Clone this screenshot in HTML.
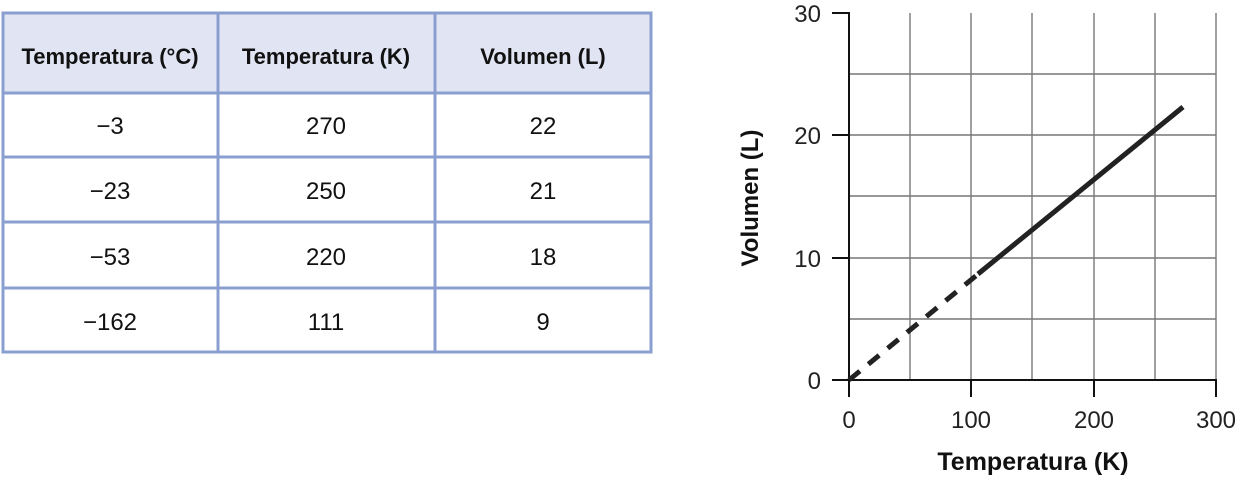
<!DOCTYPE html>
<html><head><meta charset="utf-8"><style>
body{margin:0;width:1237px;height:479px;background:#fff;font-family:"Liberation Sans",sans-serif;overflow:hidden}
</style></head><body>
<svg width="1237" height="479" xmlns="http://www.w3.org/2000/svg" font-family="Liberation Sans, sans-serif">
<rect x="3" y="13" width="648" height="80" fill="#e1e5f3"/>
<g stroke="#8a9fd0" stroke-width="3" fill="none">
<rect x="3" y="13" width="648" height="339"/>
<line x1="218" y1="13" x2="218" y2="352"/><line x1="435" y1="13" x2="435" y2="352"/>
<line x1="3" y1="93" x2="651" y2="93"/><line x1="3" y1="157" x2="651" y2="157"/>
<line x1="3" y1="222" x2="651" y2="222"/><line x1="3" y1="288" x2="651" y2="288"/>
</g>
<g font-size="24" text-anchor="middle" fill="#111">
<g font-weight="bold" font-size="22"><text x="110" y="64">Temperatura (°C)</text><text x="326" y="64">Temperatura (K)</text><text x="543" y="64">Volumen (L)</text></g>
<text x="110" y="134">−3</text><text x="326" y="134">270</text><text x="543" y="134">22</text>
<text x="110" y="199">−23</text><text x="326" y="199">250</text><text x="543" y="199">21</text>
<text x="110" y="265">−53</text><text x="326" y="265">220</text><text x="543" y="265">18</text>
<text x="110" y="330">−162</text><text x="326" y="330">111</text><text x="543" y="330">9</text>
</g>
<g stroke="#777" stroke-width="1.4">
<line x1="910" y1="13" x2="910" y2="380"/><line x1="971" y1="13" x2="971" y2="380"/><line x1="1032" y1="13" x2="1032" y2="380"/><line x1="1094" y1="13" x2="1094" y2="380"/><line x1="1155" y1="13" x2="1155" y2="380"/><line x1="1216" y1="13" x2="1216" y2="380"/>
<line x1="849" y1="319" x2="1216" y2="319"/><line x1="849" y1="258" x2="1216" y2="258"/><line x1="849" y1="196" x2="1216" y2="196"/><line x1="849" y1="135" x2="1216" y2="135"/><line x1="849" y1="74" x2="1216" y2="74"/>
</g>
<g stroke="#111" stroke-width="2">
<line x1="849" y1="12" x2="849" y2="397"/><line x1="832" y1="380" x2="1217" y2="380"/>
<line x1="832" y1="13" x2="849" y2="13"/><line x1="832" y1="135" x2="849" y2="135"/><line x1="832" y1="258" x2="849" y2="258"/>
<line x1="971" y1="380" x2="971" y2="397"/><line x1="1094" y1="380" x2="1094" y2="397"/><line x1="1216" y1="380" x2="1216" y2="397"/>
</g>
<line x1="849" y1="380" x2="977" y2="275" stroke="#222" stroke-width="5" stroke-dasharray="14,11"/>
<line x1="978" y1="274" x2="1183" y2="107" stroke="#222" stroke-width="5"/>
<g font-size="24" fill="#222">
<g text-anchor="end"><text x="821" y="22">30</text><text x="821" y="144">20</text><text x="821" y="267">10</text><text x="821" y="389">0</text></g>
<g text-anchor="middle"><text x="849" y="428">0</text><text x="971" y="428">100</text><text x="1094" y="428">200</text><text x="1216" y="428">300</text></g>
<text x="1033" y="470" text-anchor="middle" font-weight="bold" font-size="25" fill="#111">Temperatura (K)</text>
<text transform="translate(758,198) rotate(-90)" text-anchor="middle" font-weight="bold" font-size="24" fill="#111">Volumen (L)</text>
</g>
</svg>
</body></html>
